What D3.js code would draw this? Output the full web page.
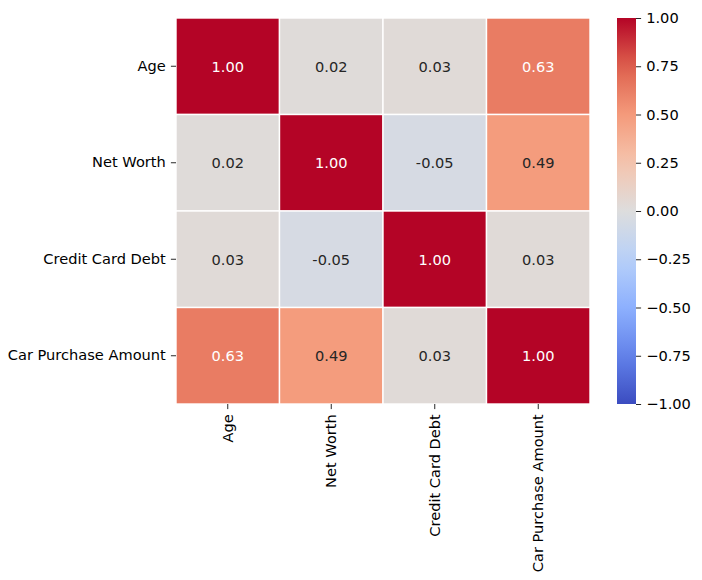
<!DOCTYPE html>
<html>
<head>
<meta charset="utf-8">
<script src="https://d3js.org/d3.v7.min.js"></script>
<style>
  body { margin: 0; background: #fff; }
  text { font-family: "DejaVu Sans", sans-serif; }
</style>
</head>
<body>
<svg id="chart" width="702" height="580"></svg>
<script>
// data
var labels = ['Age', 'Net Worth', 'Credit Card Debt', 'Car Purchase Amount'];
var corr = [
  [1.00, 0.02, 0.03, 0.63],
  [0.02, 1.00, -0.05, 0.49],
  [0.03, -0.05, 1.00, 0.03],
  [0.63, 0.49, 0.03, 1.00]
];
var cbarTicks = [1.00, 0.75, 0.50, 0.25, 0.00, -0.25, -0.50, -0.75, -1.00];

// coolwarm approximation
var cwStops = ['#3b4cc0', '#6282ea', '#8db0fe', '#b8d0f9', '#dddddd', '#f5c4ad', '#f49a7b', '#de604d', '#b40426'];
var color = d3.scaleLinear()
  .domain(d3.range(cwStops.length).map(function(i) { return -1 + 2 * i / (cwStops.length - 1); }))
  .range(cwStops)
  .interpolate(d3.interpolateRgb)
  .clamp(true);

var svg = d3.select('#chart');
var fs = 14.6;
var tick = 5.1;
var mLeft = 176, mTop = 18, mRight = 590, mBottom = 404;

var x = d3.scaleBand().domain(labels).range([mLeft, mRight]);
var y = d3.scaleBand().domain(labels).range([mTop, mBottom]);

var cells = [];
corr.forEach(function(row, i) {
  row.forEach(function(v, j) { cells.push({r: labels[i], c: labels[j], v: v}); });
});

svg.append('g').selectAll('rect')
  .data(cells).enter().append('rect')
  .attr('x', function(d) { return x(d.c); })
  .attr('y', function(d) { return y(d.r); })
  .attr('width', x.bandwidth())
  .attr('height', y.bandwidth())
  .attr('fill', function(d) { return color(d.v); })
  .attr('stroke', '#fff')
  .attr('stroke-width', 1.4);

function lum(c) {
  var rgb = d3.rgb(c);
  var f = function(u) { u = u / 255; return u <= 0.03928 ? u / 12.92 : Math.pow((u + 0.055) / 1.055, 2.4); };
  return 0.2126 * f(rgb.r) + 0.7152 * f(rgb.g) + 0.0722 * f(rgb.b);
}

svg.append('g').selectAll('text')
  .data(cells).enter().append('text')
  .attr('x', function(d) { return x(d.c) + x.bandwidth() / 2; })
  .attr('y', function(d) { return y(d.r) + y.bandwidth() / 2; })
  .attr('text-anchor', 'middle')
  .attr('dominant-baseline', 'central')
  .style('font-size', fs + 'px')
  .attr('fill', function(d) { return lum(color(d.v)) < 0.408 ? '#fff' : '#262626'; })
  .text(function(d) { return d3.format('.2f')(d.v).replace('\u2212', '-'); });

// y axis
var yAxis = d3.axisLeft(y).tickSize(tick).tickPadding(tick);
var gy = svg.append('g').attr('transform', 'translate(' + mLeft + ',0)').call(yAxis);
gy.select('.domain').remove();
gy.selectAll('text').style('font-size', fs + 'px').attr('fill', '#000').style('font-family', '"DejaVu Sans", sans-serif');
gy.selectAll('line').attr('stroke', '#000').attr('stroke-width', 0.85);

// x axis
var xAxis = d3.axisBottom(x).tickSize(tick).tickPadding(tick);
var gx = svg.append('g').attr('transform', 'translate(0,' + mBottom + ')').call(xAxis);
gx.select('.domain').remove();
gx.selectAll('line').attr('stroke', '#000').attr('stroke-width', 0.85);
gx.selectAll('text')
  .style('font-size', fs + 'px').attr('fill', '#000').style('font-family', '"DejaVu Sans", sans-serif')
  .attr('transform', 'rotate(-90)')
  .attr('text-anchor', 'end')
  .attr('x', -2 * tick)
  .attr('y', 0)
  .attr('dy', '0.35em');

// colorbar
var cbx = 617, cbw = 19;
var cy = d3.scaleLinear().domain([-1, 1]).range([mBottom, mTop]);
var defs = svg.append('defs');
var grad = defs.append('linearGradient').attr('id', 'cbgrad')
  .attr('x1', 0).attr('y1', 1).attr('x2', 0).attr('y2', 0);
d3.range(0, 1.0001, 0.05).forEach(function(t) {
  grad.append('stop').attr('offset', t).attr('stop-color', color(-1 + 2 * t));
});
svg.append('rect')
  .attr('x', cbx).attr('y', mTop)
  .attr('width', cbw).attr('height', mBottom - mTop)
  .attr('fill', 'url(#cbgrad)');

var cAxis = d3.axisRight(cy).tickValues(cbarTicks).tickSize(tick).tickPadding(tick)
  .tickFormat(function(d) { return d3.format('.2f')(d); });
var gc = svg.append('g').attr('transform', 'translate(' + (cbx + cbw) + ',0)').call(cAxis);
gc.select('.domain').remove();
gc.selectAll('line').attr('stroke', '#000').attr('stroke-width', 0.85);
gc.selectAll('text').style('font-size', fs + 'px').attr('fill', '#000').style('font-family', '"DejaVu Sans", sans-serif');
</script>
</body>
</html>
